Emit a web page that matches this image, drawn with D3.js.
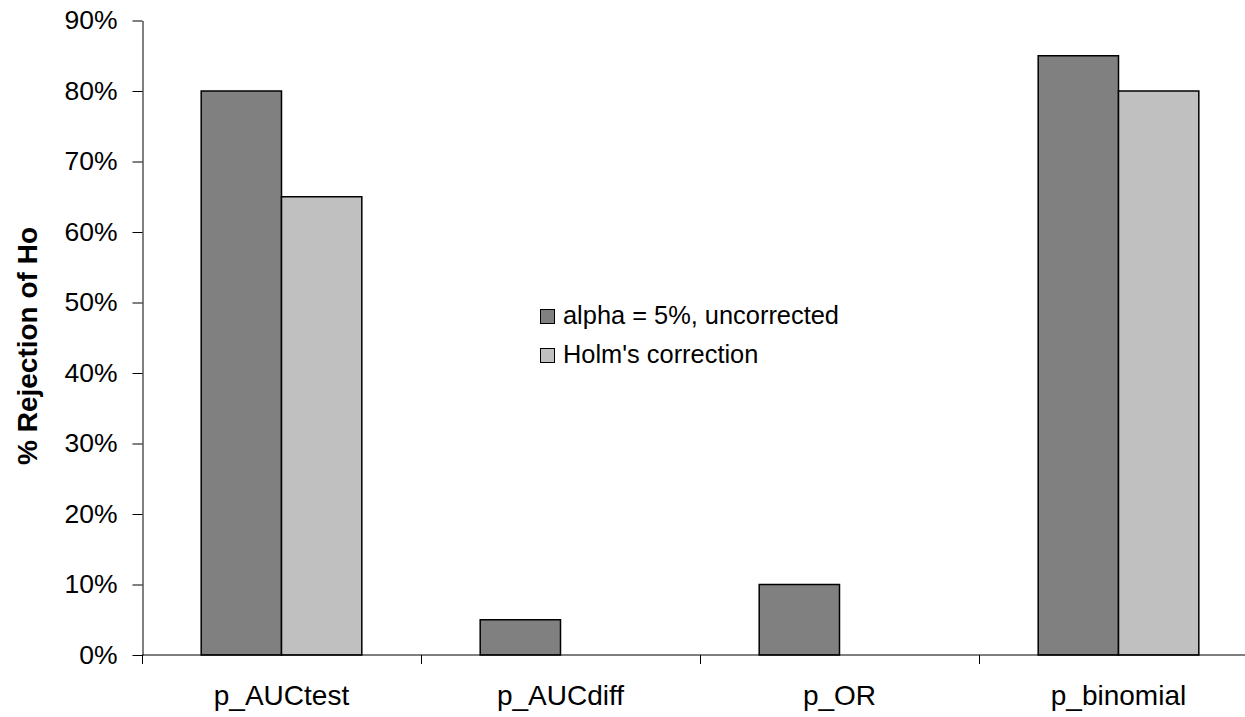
<!DOCTYPE html>
<html><head><meta charset="utf-8">
<script src="https://cdn.jsdelivr.net/npm/d3@7"></script>
<style>body{margin:0;background:#fff;} svg{display:block;font-family:"Liberation Sans",Arial,sans-serif;}</style>
</head><body>
<svg id="c" width="1245" height="717"></svg>
<script>
const categories = ["p_AUCtest","p_AUCdiff","p_OR","p_binomial"];
const seriesNames = ["alpha = 5%, uncorrected","Holm's correction"];
const uncorrected = [0.80, 0.05, 0.10, 0.85];
const holm = [0.65, 0.00, 0.00, 0.80];
const yTicks = [0,0.1,0.2,0.3,0.4,0.5,0.6,0.7,0.8,0.9];
const colors = ["#808080","#c0c0c0"];

const svg = d3.select("#c");
const plotLeft = 142, plotTop = 20.5, plotBottom = 655, bandW = 279;
const x = d3.scaleBand().domain(categories).range([plotLeft, plotLeft + bandW*categories.length]).padding(0);
const xi = d3.scaleBand().domain(seriesNames).range([0, x.bandwidth()]).paddingInner(0).paddingOuter(0.737);
const y = d3.scaleLinear().domain([0,0.9]).range([plotBottom, plotTop]);

const data = categories.map((c,i)=>({cat:c, vals:[uncorrected[i], holm[i]]}));

// bars
const g = svg.append("g");
data.forEach(d=>{
  d.vals.forEach((v,j)=>{
    if (v<=0) return;
    g.append("rect")
      .attr("x", x(d.cat)+xi(seriesNames[j]))
      .attr("y", y(v))
      .attr("width", xi.bandwidth())
      .attr("height", y(0)-y(v))
      .attr("fill", colors[j]).attr("stroke","#000").attr("stroke-width",1.5);
  });
});

// y axis
const ya = svg.append("g").attr("transform",`translate(${plotLeft+0.5},0)`)
  .call(d3.axisLeft(y).tickValues(yTicks).tickFormat(d3.format(".0%")).tickSize(10).tickSizeOuter(0).tickPadding(15));
ya.select(".domain").attr("stroke","#000");
ya.selectAll(".tick line").attr("stroke","#000");
ya.selectAll("text").attr("font-size",26.5).attr("fill","#000").attr("font-family","Liberation Sans, Arial, sans-serif");

// x axis
const xa = svg.append("g").attr("transform",`translate(0,${plotBottom})`);
xa.append("line").attr("x1",plotLeft).attr("x2",plotLeft+bandW*categories.length).attr("stroke","#000");
const bounds = categories.map(c=>x(c)).concat([x.range()[1]]);
xa.selectAll("line.tk").data(bounds).join("line").attr("class","tk")
  .attr("x1",d=>Math.round(d)+0.5).attr("x2",d=>Math.round(d)+0.5).attr("y1",0).attr("y2",9).attr("stroke","#000");
xa.selectAll("text").data(categories).join("text")
  .attr("x",d=>x(d)+x.bandwidth()/2).attr("y",50)
  .attr("text-anchor","middle").attr("font-size",28).text(d=>d);

// y title
svg.append("text").attr("transform",`translate(37,346) rotate(-90)`)
  .attr("text-anchor","middle").attr("font-size",28).attr("font-weight","bold").text("% Rejection of Ho");

// legend
const lg = svg.append("g").attr("transform","translate(540,309)");
seriesNames.forEach((s,i)=>{
  const r = lg.append("g").attr("transform",`translate(0,${i*39})`);
  r.append("rect").attr("x",0.5).attr("y",0.5).attr("width",14).attr("height",14).attr("fill",colors[i]).attr("stroke","#000");
  r.append("text").attr("x",23).attr("y",15).attr("font-size",25.4).text(s);
});
</script>
</body></html>
